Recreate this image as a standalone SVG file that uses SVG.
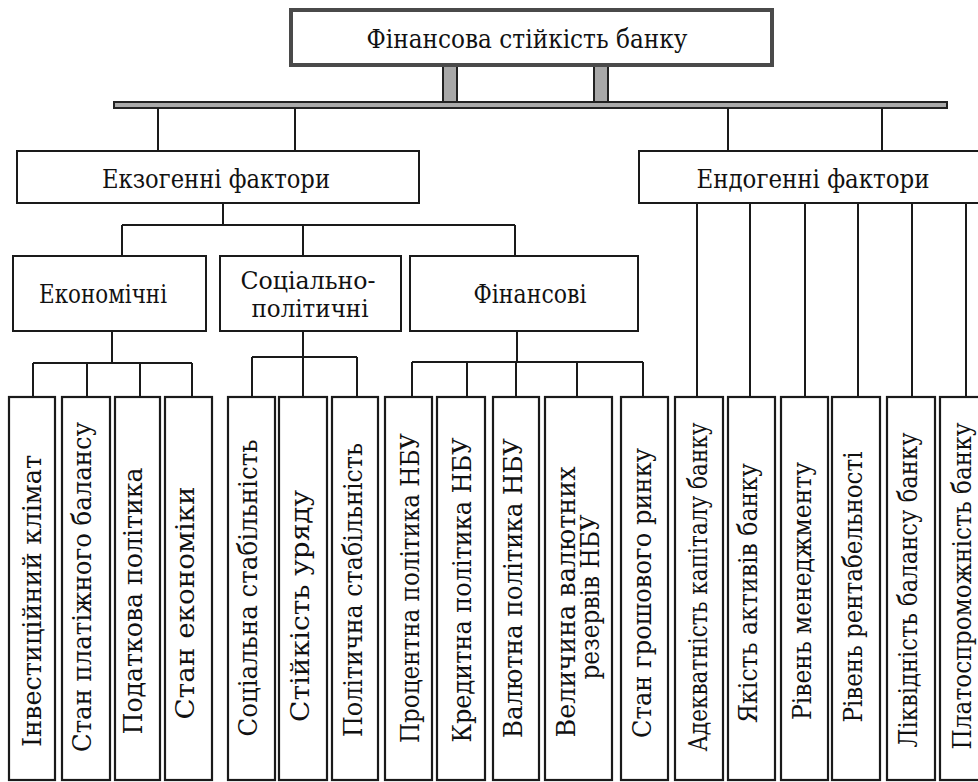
<svg xmlns="http://www.w3.org/2000/svg" width="978" height="782" viewBox="0 0 978 782">
<style>
.t{font-family:'DejaVu Serif','Liberation Serif',serif;font-size:26px;fill:#111;}
.t text{text-anchor:middle;}
.box{fill:#fff;stroke:#1a1a1a;stroke-width:2;}
.col{fill:#fff;stroke:#1a1a1a;stroke-width:2.2;}
.ln{stroke:#1a1a1a;stroke-width:2;fill:none;}
</style>
<rect width="978" height="782" fill="#fff"/>
<g id="connectors">
<rect x="443" y="65" width="14" height="38" fill="#a8a8a8" stroke="#222" stroke-width="2"/>
<rect x="594" y="65" width="14" height="38" fill="#a8a8a8" stroke="#222" stroke-width="2"/>
<rect x="114" y="102" width="833" height="6" fill="#aaa" stroke="#222" stroke-width="2"/>
<path class="ln" d="M158 108V151M295 108V151M728 108V151M882 108V151"/>
<path class="ln" d="M223 203V225M122 225H515M122 225V256M303 225V256M515 225V256"/>
<path class="ln" d="M112 331V363M33 363H192M33 363V397M87 363V397M140 363V397M192 363V397"/>
<path class="ln" d="M303 331V357M252 357H357M252 357V397M303 357V397M357 357V397"/>
<path class="ln" d="M517 331V362M412 362H643M412 362V397M467 362V397M516 362V397M577 362V397M643 362V397"/>
<path class="ln" d="M697 203V397M750 203V397M805 203V397M858 203V397M912 203V397M966 203V397"/>
</g>
<g class="t">
<g id="root">
<rect x="291" y="10" width="481" height="55" fill="#fff" stroke="#4a4a4a" stroke-width="4"/>
<text x="527" y="48" textLength="321" lengthAdjust="spacingAndGlyphs">Фінансова стійкість банку</text>
</g>
<g id="exo">
<rect class="box" x="17" y="151" width="402" height="52"/>
<text x="216" y="188" textLength="228" lengthAdjust="spacingAndGlyphs">Екзогенні фактори</text>
</g>
<g id="endo">
<rect class="box" x="639" y="151" width="350" height="52"/>
<text x="813" y="188" textLength="233" lengthAdjust="spacingAndGlyphs">Ендогенні фактори</text>
</g>
<g id="econ">
<rect class="box" x="13" y="256" width="193" height="75"/>
<text x="103" y="303" textLength="128" lengthAdjust="spacingAndGlyphs">Економічні</text>
</g>
<g id="socio">
<rect class="box" x="220" y="256" width="181" height="75"/>
<text x="308" y="289" font-size="24" textLength="135" lengthAdjust="spacingAndGlyphs">Соціально-</text>
<text x="310" y="317" font-size="24" textLength="117" lengthAdjust="spacingAndGlyphs">політичні</text>
</g>
<g id="fin">
<rect class="box" x="410" y="256" width="228" height="75"/>
<text x="530" y="303" textLength="113" lengthAdjust="spacingAndGlyphs">Фінансові</text>
</g>
<g id="c1"><rect class="col" x="9" y="397" width="46" height="383"/><text transform="translate(41 601) rotate(-90)" textLength="292" lengthAdjust="spacingAndGlyphs">Інвестиційний клімат</text></g>
<g id="c2"><rect class="col" x="62" y="397" width="48" height="383"/><text transform="translate(91 587) rotate(-90)" textLength="330" lengthAdjust="spacingAndGlyphs">Стан платіжного балансу</text></g>
<g id="c3"><rect class="col" x="115" y="397" width="45" height="383"/><text transform="translate(142 601) rotate(-90)" textLength="267" lengthAdjust="spacingAndGlyphs">Податкова політика</text></g>
<g id="c4"><rect class="col" x="165" y="397" width="47" height="383"/><text transform="translate(194 603) rotate(-90)" textLength="233" lengthAdjust="spacingAndGlyphs">Стан економіки</text></g>
<g id="c5"><rect class="col" x="228" y="397" width="47" height="383"/><text transform="translate(257 588) rotate(-90)" textLength="297" lengthAdjust="spacingAndGlyphs">Соціальна стабільність</text></g>
<g id="c6"><rect class="col" x="279" y="397" width="48" height="383"/><text transform="translate(309 606) rotate(-90)" textLength="232" lengthAdjust="spacingAndGlyphs">Стійкість уряду</text></g>
<g id="c7"><rect class="col" x="332" y="397" width="46" height="383"/><text transform="translate(362 590) rotate(-90)" textLength="294" lengthAdjust="spacingAndGlyphs">Політична стабільність</text></g>
<g id="c8"><rect class="col" x="385" y="397" width="47" height="383"/><text transform="translate(419 588) rotate(-90)" textLength="310" lengthAdjust="spacingAndGlyphs">Процентна політика НБУ</text></g>
<g id="c9"><rect class="col" x="437" y="397" width="48" height="383"/><text transform="translate(471 590) rotate(-90)" textLength="305" lengthAdjust="spacingAndGlyphs">Кредитна політика НБУ</text></g>
<g id="c10"><rect class="col" x="493" y="397" width="46" height="383"/><text transform="translate(522 588) rotate(-90)" textLength="300" lengthAdjust="spacingAndGlyphs">Валютна політика НБУ</text></g>
<g id="c11"><rect class="col" x="545" y="397" width="67" height="383"/><text transform="translate(575 602) rotate(-90)" textLength="271" lengthAdjust="spacingAndGlyphs">Величина валютних</text><text transform="translate(599 597) rotate(-90)" textLength="165" lengthAdjust="spacingAndGlyphs">резервів НБУ</text></g>
<g id="c12"><rect class="col" x="621" y="397" width="47" height="383"/><text transform="translate(651 593) rotate(-90)" textLength="290" lengthAdjust="spacingAndGlyphs">Стан грошового ринку</text></g>
<g id="c13"><rect class="col" x="675" y="397" width="48" height="383"/><text transform="translate(707 587) rotate(-90)" textLength="329" lengthAdjust="spacingAndGlyphs">Адекватність капіталу банку</text></g>
<g id="c14"><rect class="col" x="728" y="397" width="47" height="383"/><text transform="translate(757 593) rotate(-90)" textLength="260" lengthAdjust="spacingAndGlyphs">Якість активів банку</text></g>
<g id="c15"><rect class="col" x="781" y="397" width="47" height="383"/><text transform="translate(811 591) rotate(-90)" textLength="258" lengthAdjust="spacingAndGlyphs">Рівень менеджменту</text></g>
<g id="c16"><rect class="col" x="832" y="397" width="48" height="383"/><text transform="translate(862 587) rotate(-90)" textLength="271" lengthAdjust="spacingAndGlyphs">Рівень рентабельності</text></g>
<g id="c17"><rect class="col" x="887" y="397" width="48" height="383"/><text transform="translate(917 590) rotate(-90)" textLength="315" lengthAdjust="spacingAndGlyphs">Ліквідність балансу банку</text></g>
<g id="c18"><rect class="col" x="940" y="397" width="52" height="383"/><text transform="translate(971 586) rotate(-90)" textLength="327" lengthAdjust="spacingAndGlyphs">Платоспроможність банку</text></g>
</g>
</svg>
